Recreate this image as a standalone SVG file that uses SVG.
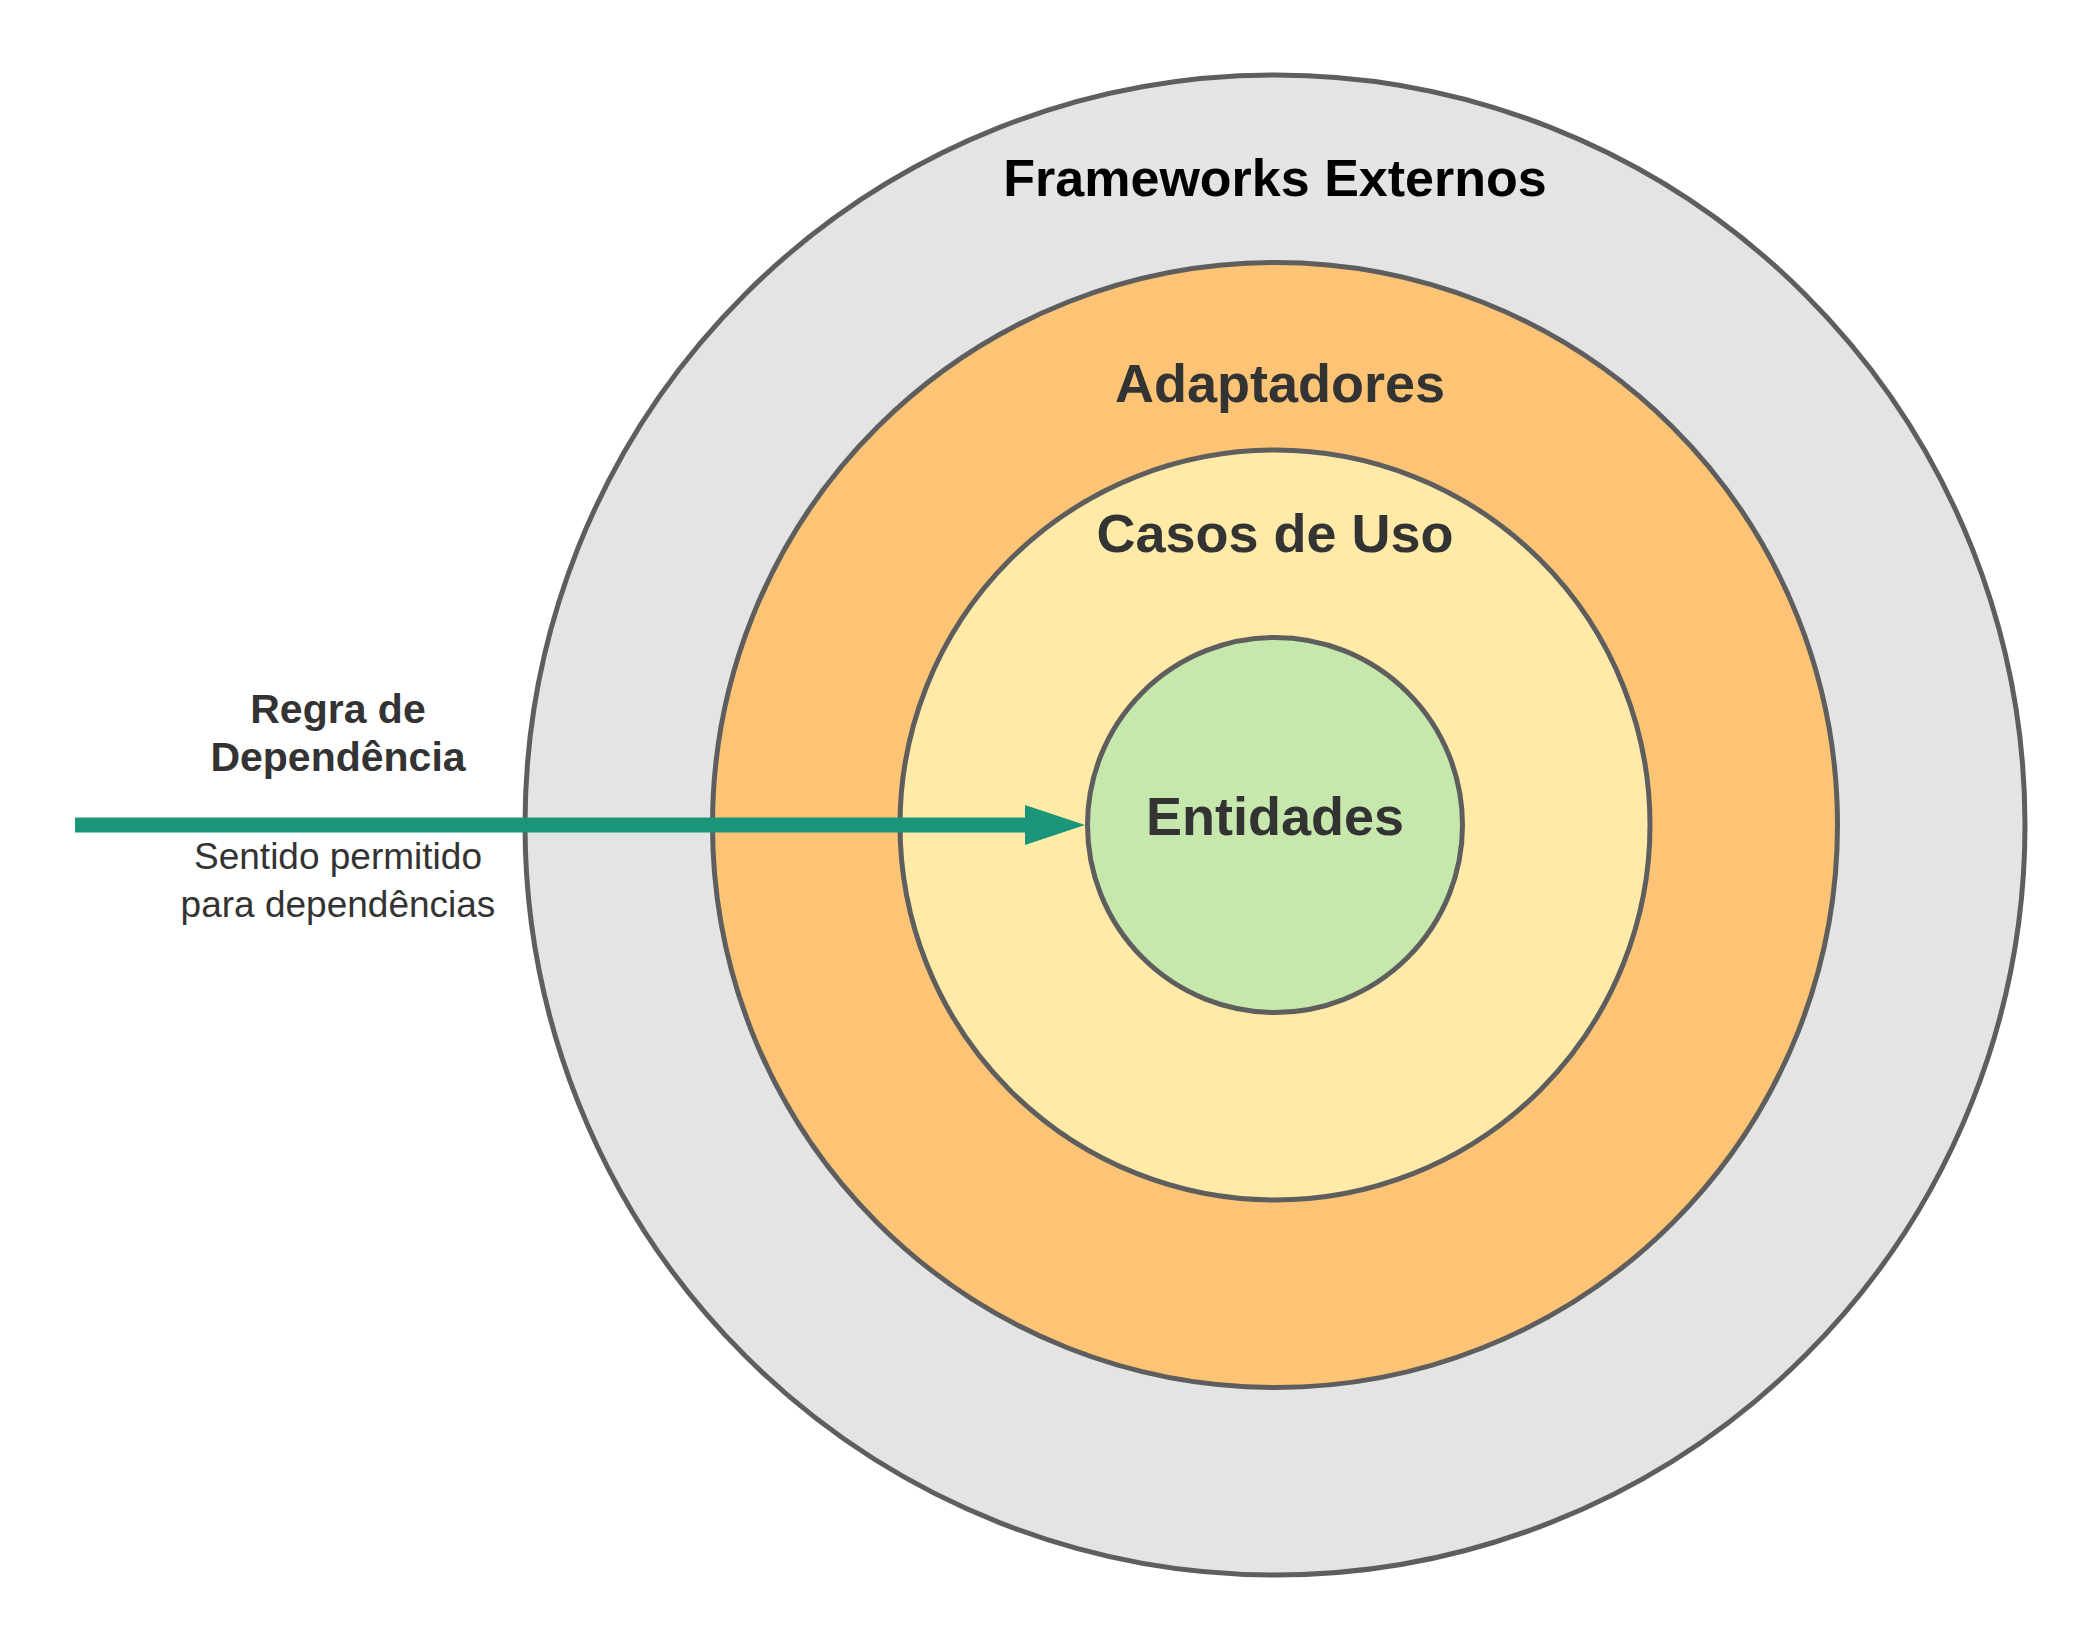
<svg xmlns="http://www.w3.org/2000/svg" width="2100" height="1650" viewBox="0 0 2100 1650">
<style>
.ring{stroke:#5e5e5e;stroke-width:5}
.lbl{font-family:"Liberation Sans",Arial,sans-serif;font-weight:bold;font-size:54px;text-anchor:middle;fill:#333}
.side{font-family:"Liberation Sans",Arial,sans-serif;text-anchor:middle;fill:#333}
</style>
<defs>
<marker id="ah" markerWidth="62" markerHeight="40" refX="2" refY="20" orient="auto" markerUnits="userSpaceOnUse">
<path d="M2,0 L62,20 L2,40 Z" fill="#1a957a"/>
</marker>
</defs>
<rect width="2100" height="1650" fill="#fff"/>
<g id="frameworks">
<circle class="ring" cx="1275" cy="825" r="750" fill="#e4e4e4"/>
<text class="lbl" x="1275" y="196" style="fill:#000;font-size:52px">Frameworks Externos</text>
</g>
<g id="adaptadores">
<circle class="ring" cx="1275" cy="825" r="562.5" fill="#fdc476"/>
<text class="lbl" x="1280" y="402">Adaptadores</text>
</g>
<g id="casos">
<circle class="ring" cx="1275" cy="825" r="375" fill="#ffeaa8"/>
<text class="lbl" x="1275" y="552">Casos de Uso</text>
</g>
<g id="entidades">
<circle class="ring" cx="1275" cy="825" r="187.5" fill="#c7e8ad"/>
<text class="lbl" x="1275" y="835">Entidades</text>
</g>
<g id="connectors">
<line x1="75" y1="825" x2="1025" y2="825" stroke="#1a957a" stroke-width="15" marker-end="url(#ah)"/>
</g>
<g id="regra">
<text class="side" x="338" y="723" font-size="41" font-weight="bold">Regra de</text>
<text class="side" x="338" y="771" font-size="41" font-weight="bold">Dependência</text>
<text class="side" x="338" y="869" font-size="37">Sentido permitido</text>
<text class="side" x="338" y="917" font-size="37">para dependências</text>
</g>
</svg>
